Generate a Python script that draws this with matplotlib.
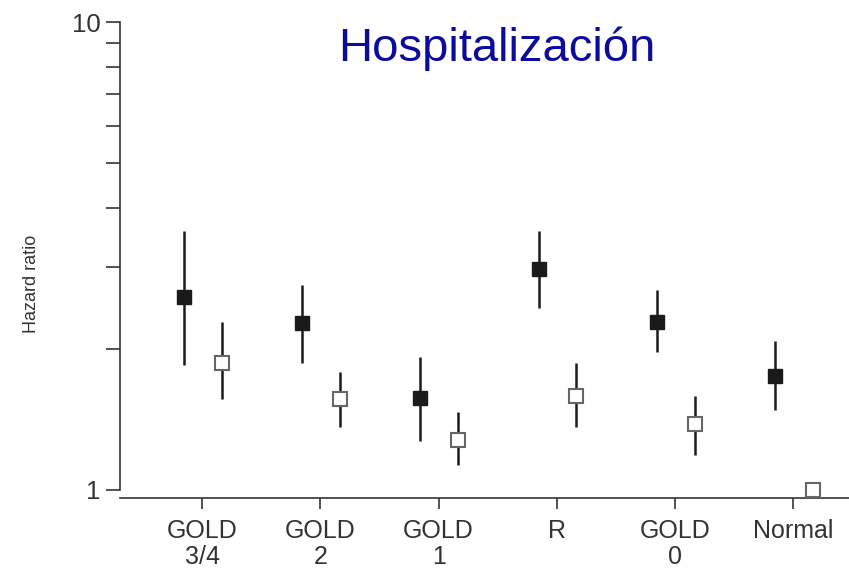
import matplotlib
matplotlib.use("Agg")
import matplotlib.pyplot as plt
import numpy as np

# hazard ratios (log scale)
groups = ["GOLD\n3/4", "GOLD\n2", "GOLD\n1", "R", "GOLD\n0", "Normal"]
hr_filled = [2.58, 2.27, 1.57, 2.97, 2.29, 1.75]
lo_filled = [1.85, 1.87, 1.27, 2.45, 1.97, 1.48]
hi_filled = [3.58, 2.74, 1.92, 3.58, 2.67, 2.08]
hr_open = [1.87, 1.565, 1.28, 1.59, 1.38, 1.0]
lo_open = [1.565, 1.36, 1.13, 1.365, 1.19, np.nan]
hi_open = [2.28, 1.79, 1.47, 1.87, 1.59, np.nan]

plt.rcParams["font.family"] = ["Liberation Sans", "DejaVu Sans"]

fig = plt.figure(figsize=(8.49, 5.69), dpi=100)
ax = fig.add_axes([0.1413, 0.1248, 0.8587, 0.8365])

x = np.arange(len(groups))
ink = "#1a1a1a"
off_f, off_o = -0.155, 0.165

ax.vlines(x + off_f, lo_filled, hi_filled, color=ink, lw=1.8, zorder=2)
ax.vlines(x + off_o, lo_open, hi_open, color=ink, lw=1.8, zorder=2)
ax.plot(x + off_f, hr_filled, "s", ms=10.5, mfc=ink, mec=ink, mew=1.0,
        zorder=3, clip_on=False)
ax.plot(x + off_o, hr_open, "s", ms=10.5, mfc="white", mec="#666666", mew=1.5,
        zorder=3, clip_on=False)

ax.set_yscale("log")
ax.set_ylim(0.961, 10)
ax.set_xlim(-0.694, 5.47)

ax.set_yticks([1, 10])
ax.set_yticklabels(["1", "10"])
ax.set_yticks(np.arange(2, 10), minor=True)
ax.yaxis.set_minor_formatter(plt.NullFormatter())
ax.tick_params(axis="y", which="both", length=10, width=1.2, color="#333333",
               pad=4, labelsize=18.5, labelcolor="#333333")

ax.set_xticks(x)
ax.set_xticklabels(groups, linespacing=1.1)
ax.tick_params(axis="x", length=8, width=1.2, color="#333333", pad=7,
               labelsize=18, labelcolor="#333333")

ax.spines["top"].set_visible(False)
ax.spines["right"].set_visible(False)
ax.spines["left"].set_bounds(1, 10)
for s in ("left", "bottom"):
    ax.spines[s].set_linewidth(1.2)
    ax.spines[s].set_color("#333333")

fig.text(31 / 849, 0.501, "Hazard ratio", rotation=90, ha="center", va="center",
         fontsize=13, color="#333333")
fig.text(0.585, 0.893, "Hospitalización", ha="center", va="baseline",
         fontsize=34, color="#0b0b9e")

fig.savefig("out.png", dpi=100)
